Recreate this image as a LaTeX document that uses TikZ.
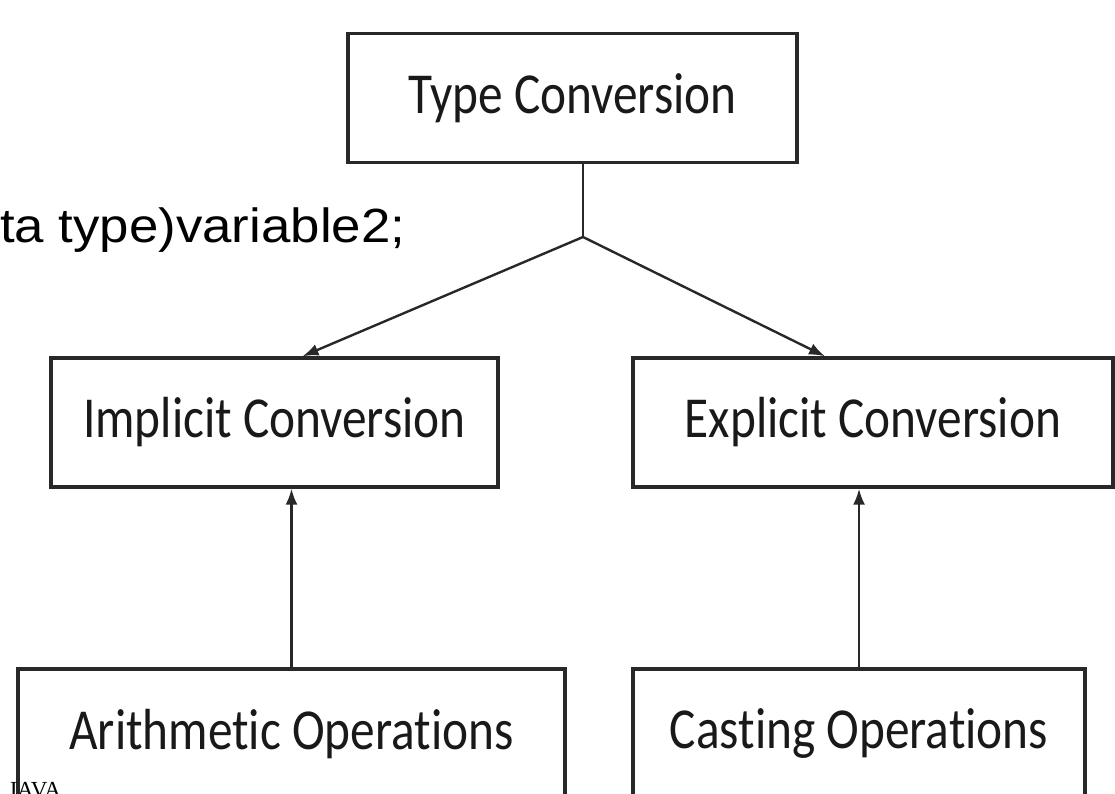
\documentclass[tikz,border=0pt]{standalone}
\usepackage{fontspec}
\usepackage{tikz}
\usetikzlibrary{calc,arrows.meta,positioning}
\newfontfamily\boxfont{Carlito}[FakeStretch=0.85,Ligatures=NoCommon]
\newfontfamily\codefont{Liberation Sans}[FakeStretch=1.1]
\newfontfamily\markfont{Liberation Serif}
\definecolor{boxline}{RGB}{40,40,40}
\tikzset{
    convbox/.style={draw=boxline, line width=3.4pt, fill=white, inner sep=0pt,
        minimum height=129pt, text=black!90, font=\boxfont\fontsize{58}{60}\selectfont},
    convline/.style={draw=boxline, line width=2.4pt},
    convarrow/.style={convline, -{Latex[length=16pt,width=12pt]}},
}

\begin{document}
\begin{tikzpicture}[x=1pt,y=-1pt]
            \useasboundingbox (0,0) rectangle (1115,794);
            \node[convbox, minimum width=449pt] (type) at (572.5,98) {Type Conversion};
            \node[convbox, minimum width=447pt] (impl) at (274.5,422.5) {Implicit Conversion};
            \node[convbox, minimum width=480pt] (expl) at (873,422.5) {Explicit Conversion};
            \node[convbox, minimum width=547pt, minimum height=130pt] (arith) at (291.5,734) {Arithmetic Operations};
            \node[convbox, minimum width=452pt, minimum height=130pt] (cast) at (859,734) {Casting Operations};
            \coordinate (junc) at (583,237);
            \draw[convline] (junc |- type.south) -- (junc);
            \draw[convarrow] (junc) -- ([xshift=28pt]impl.north);
            \draw[convarrow] (junc) -- ([xshift=-48pt]expl.north);
            \draw[convarrow] (arith.north) -- (arith.north |- impl.south);
            \draw[convarrow] (cast.north) -- (cast.north |- expl.south);
            \node[anchor=base west, inner sep=0pt, font=\codefont\fontsize{48}{50}\selectfont] (code) at (0,242) {ta type)variable2;};
            \node[anchor=base west, inner sep=0pt, font=\markfont\fontsize{23}{25}\selectfont] (mark) at (8,797) {JAVA};
        \end{tikzpicture}
\end{document}
